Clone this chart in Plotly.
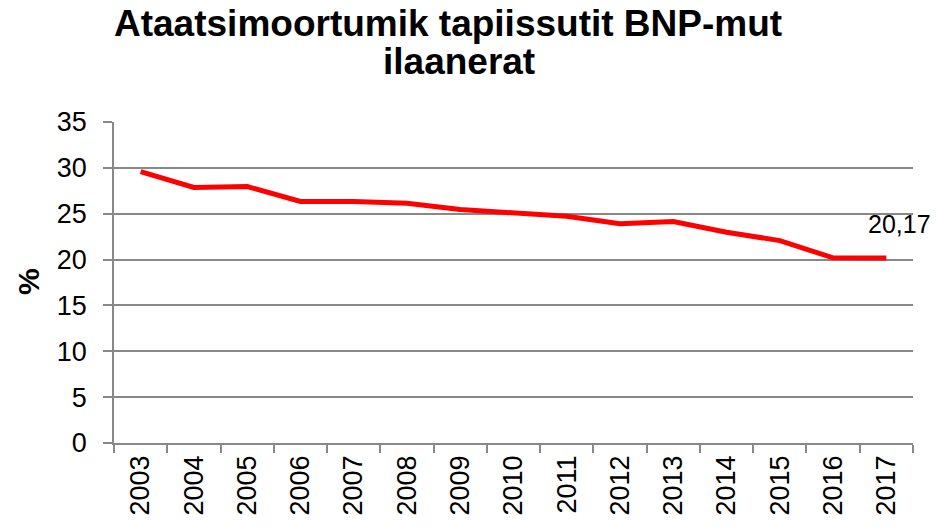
import plotly.graph_objects as go

years = ["2003", "2004", "2005", "2006", "2007", "2008", "2009", "2010",
         "2011", "2012", "2013", "2014", "2015", "2016", "2017"]
values = [29.6, 27.86, 27.97, 26.33, 26.33, 26.15, 25.45, 25.05,
          24.73, 23.9, 24.15, 22.98, 22.07, 20.19, 20.17]
title_lines = ["Ataatsimoortumik tapiissutit BNP-mut", "ilaanerat"]
last_label = "20,17"

FONT = "Liberation Sans, Arial, sans-serif"
GRID = "#888888"
W, H = 936, 527
L, R, T, B = 114, 23, 122, 84
PW, PH = W - L - R, H - T - B


def px(x):
    return (x - L) / PW


def py(y):
    return (H - B - y) / PH


fig = go.Figure()
fig.add_trace(go.Scatter(
    x=years, y=values, mode="lines",
    line=dict(color="#ff0000", width=5),
    hoverinfo="skip", showlegend=False,
))
fig.add_annotation(
    x=len(years) - 1, y=values[-1], xref="x", yref="y",
    text=last_label, showarrow=False,
    yanchor="middle", yshift=34, xshift=13,
    font=dict(family=FONT, size=25, color="#000000"),
)
for txt, cx, cy in [(title_lines[0], 448, 24), (title_lines[1], 459, 62)]:
    fig.add_annotation(
        x=px(cx), y=py(cy), xref="paper", yref="paper",
        text="<b>" + txt + "</b>", showarrow=False,
        xanchor="center", yanchor="middle",
        font=dict(family=FONT, size=37, color="#000000"),
    )
fig.add_annotation(
    x=px(28), y=py(282), xref="paper", yref="paper",
    text="<b>%</b>", showarrow=False, textangle=-90,
    xanchor="center", yanchor="middle",
    font=dict(family=FONT, size=30, color="#000000"),
)
fig.update_layout(
    width=W, height=H,
    margin=dict(l=L, r=R, t=T, b=B),
    paper_bgcolor="white", plot_bgcolor="white",
    font=dict(family=FONT, color="#000000"),
    xaxis=dict(
        type="category", range=[-0.5, 14.5], automargin=False,
        tickson="boundaries", ticks="outside", ticklen=8, tickcolor=GRID,
        tickwidth=1.5, tickangle=-90,
        showline=True, linecolor=GRID, linewidth=1.5,
        showgrid=False, zeroline=False,
        tickfont=dict(family=FONT, size=27, color="#000000"),
    ),
    yaxis=dict(
        range=[0, 35], tickmode="array", automargin=False,
        tickvals=[0, 5, 10, 15, 20, 25, 30, 35],
        ticks="outside", ticklen=9, tickcolor=GRID, tickwidth=1.5,
        ticklabelstandoff=11,
        showline=True, linecolor=GRID, linewidth=1.5,
        showgrid=True, gridcolor=GRID, gridwidth=1.5,
        zeroline=False,
        tickfont=dict(family=FONT, size=27, color="#000000"),
    ),
)
fig.write_html("out.html", config={"displayModeBar": False},
               post_script="document.body.style.margin='0';")
